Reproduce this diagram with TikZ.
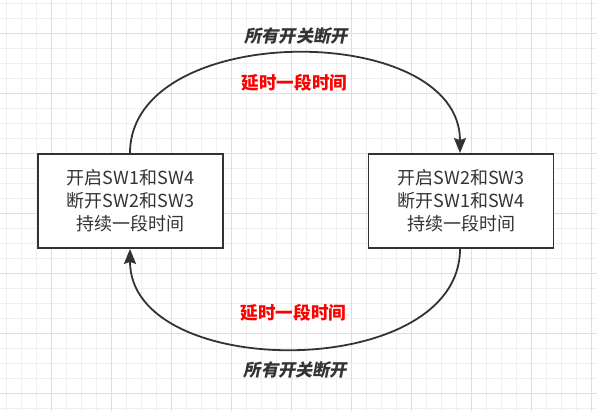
\documentclass[tikz,border=0pt]{standalone}
\usepackage{fontspec}
\setmainfont{Noto Sans CJK SC}
\newfontfamily\slantcjk[FakeSlant=0.2]{Noto Sans CJK SC}
\usetikzlibrary{arrows.meta}
\definecolor{ink}{HTML}{333333}
\definecolor{gridminor}{HTML}{EFEFEF}
\definecolor{gridmajor}{HTML}{DEDEDE}
\definecolor{alarm}{HTML}{FF0000}
\tikzset{
  statebox/.style={draw=ink, line width=1.8pt, fill=white, minimum width=185pt, minimum height=94pt, inner sep=0pt, align=center, text=ink, font=\fontsize{18pt}{23pt}\selectfont},
  flow/.style={draw=ink, line width=1.8pt, -{Stealth[length=15pt, width=12pt, inset=2pt]}},
  note/.style={text=ink, font=\slantcjk\bfseries\fontsize{17.2pt}{20pt}\selectfont},
  delay/.style={text=alarm, font=\bfseries\fontsize{17.6pt}{20pt}\selectfont},
}
\begin{document}
\begin{tikzpicture}[x=1pt, y=-1pt]
\useasboundingbox (0,0) rectangle (597,411);
\fill[white] (0,0) rectangle (597,411);
\foreach \k in {0,...,39} {
  \draw[gridminor, line width=0.8pt] (6.7+15*\k,0) -- (6.7+15*\k,411);
}
\foreach \k in {0,...,27} {
  \draw[gridminor, line width=0.8pt] (0,3.3+15*\k) -- (597,3.3+15*\k);
}
\foreach \k in {0,...,9} {
  \draw[gridmajor, line width=0.8pt] (51.7+60*\k,0) -- (51.7+60*\k,411);
}
\foreach \k in {0,...,6} {
  \draw[gridmajor, line width=0.8pt] (0,33.3+60*\k) -- (597,33.3+60*\k);
}
\node[statebox] (a) at (130.5,201) {开启SW1和SW4\\断开SW2和SW3\\持续一段时间};
\node[statebox] (b) at (461,201) {开启SW2和SW3\\断开SW1和SW4\\持续一段时间};
\coordinate (aN) at ([xshift=-0.5pt]a.north);
\coordinate (bN) at ([xshift=-1pt]b.north);
\coordinate (aS) at ([xshift=-0.5pt]a.south);
\coordinate (bS) at ([xshift=-1pt]b.south);
\draw[flow] (aN) .. controls +(0,-133) and +(0,-133) .. (bN);
\draw[flow] (bS) .. controls +(0,133) and +(0,133) .. (aS);
\node[note] (n1) at (296,36) {所有开关断开};
\node[delay] (d1) at (294.5,83) {延时一段时间};
\node[delay] (d2) at (293.5,312.5) {延时一段时间};
\node[note] (n2) at (295.5,370) {所有开关断开};
\end{tikzpicture}
\end{document}
